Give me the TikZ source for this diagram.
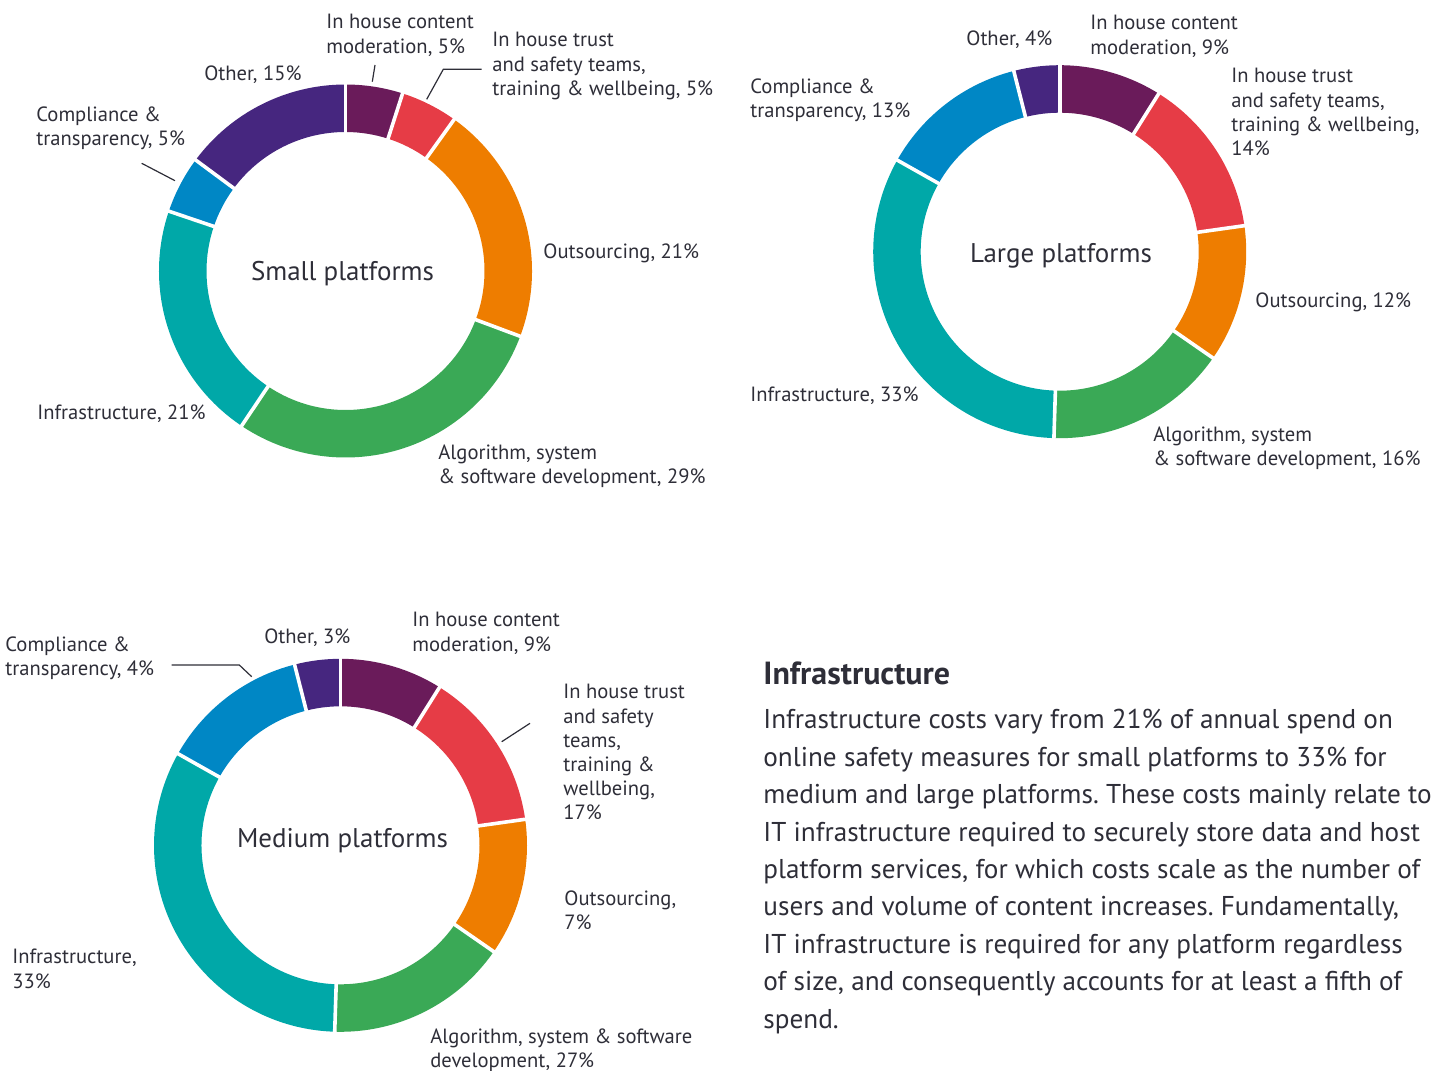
\documentclass[tikz,border=0pt]{standalone}
\usepackage{fontspec}
\setmainfont{PT Sans}
\usetikzlibrary{calc}
\definecolor{inkc}{HTML}{2E2E38}
\definecolor{modc}{HTML}{6A1B5A}
\definecolor{trustc}{HTML}{E63C46}
\definecolor{outc}{HTML}{EE7D00}
\definecolor{algc}{HTML}{3AA956}
\definecolor{infc}{HTML}{00A8A8}
\definecolor{compc}{HTML}{0087C5}
\definecolor{othc}{HTML}{46267F}
\frenchspacing

\begin{document}
\begin{tikzpicture}[x=0.5pt, y=0.5pt,
  lbl/.style={text=inkc, font=\fontsize{10.3}{12.1}\selectfont, align=left, anchor=north west, inner sep=0pt},
  ctitle/.style={text=inkc, font=\fontsize{13.5}{16}\selectfont, inner sep=0pt},
  head/.style={text=inkc, font=\fontsize{16}{18}\selectfont\bfseries, anchor=north west, inner sep=0pt},
  body/.style={text=inkc, font=\fontsize{13.6}{18.7}\selectfont, align=left, anchor=north west, inner sep=0pt},
  leader/.style={draw=inkc, line width=0.6pt},
  gap/.style={draw=white, line width=1.8pt}]

% GLOBAL SETTINGS
\newcommand{\Rout}{186.5}
\newcommand{\Rin}{139}
\newcommand{\Total}{101}
\newcommand{\donut}[2]{%
  \foreach \sA/\sB/\col in {#2} {
    \pgfmathsetmacro{\angA}{90-\sA/\Total*360}
    \pgfmathsetmacro{\angB}{90-\sB/\Total*360}
    \fill[\col] ($(#1)+(\angA:\Rout)$) arc[start angle=\angA, end angle=\angB, radius=\Rout]
      -- ($(#1)+(\angB:\Rin)$) arc[start angle=\angB, end angle=\angA, radius=\Rin] -- cycle;
  }
  \foreach \sA/\sB/\col in {#2} {
    \pgfmathsetmacro{\angA}{90-\sA/\Total*360}
    \draw[gap] ($(#1)+(\angA:136)$) -- ($(#1)+(\angA:190)$);
  }
}

\useasboundingbox (0,0) rectangle (1443,-1070);

% CENTRES
\coordinate (S) at (345.5,-271);
\coordinate (L) at (1059.7,-251.7);
\coordinate (M) at (340.5,-845.3);

% RINGS
\donut{S}{0/5/modc, 5/10/trustc, 10/31/outc, 31/60/algc, 60/81/infc, 81/86/compc, 86/101/othc}
\donut{L}{0/9/modc, 9/23/trustc, 23/35/outc, 35/51/algc, 51/84/infc, 84/97/compc, 97/101/othc}
\donut{M}{0/9/modc, 9/23/trustc, 23/35/outc, 35/51/algc, 51/84/infc, 84/97/compc, 97/101/othc}

\node[ctitle] (Stitle) at (342.5,-274) {Small platforms};
\node[ctitle] (Ltitle) at (1061,-256) {Large platforms};
\node[ctitle] (Mtitle) at (342.5,-841) {Medium platforms};

% SMALL LABELS
\node[lbl] (sCont) at (326,-14) {In house content\\moderation, 5\%};
\node[lbl] (sTrust) at (492,-32) {In house trust\\and safety teams,\\training \& wellbeing, 5\%};
\node[lbl] (sOut) at (543,-243) {Outsourcing, 21\%};
\node[lbl] (sAlg) at (438,-444) {Algorithm, system\\\& software development, 29\%};
\node[lbl] (sInf) at (37,-404) {Infrastructure, 21\%};
\node[lbl] (sComp) at (36,-106) {Compliance \&\\transparency, 5\%};
\node[lbl] (sOth) at (204,-65) {Other, 15\%};

% LARGE LABELS
\node[lbl] (lOth) at (966,-30) {Other, 4\%};
\node[lbl] (lCont) at (1090,-15) {In house content\\moderation, 9\%};
\node[lbl] (lTrust) at (1231,-68) {In house trust\\and safety teams,\\training \& wellbeing,\\14\%};
\node[lbl] (lComp) at (750,-78) {Compliance \&\\transparency, 13\%};
\node[lbl] (lOut) at (1255,-292) {Outsourcing, 12\%};
\node[lbl] (lInf) at (750,-386) {Infrastructure, 33\%};
\node[lbl] (lAlg) at (1153,-426) {Algorithm, system\\\& software development, 16\%};

% MEDIUM LABELS
\node[lbl] (mOth) at (264,-628) {Other, 3\%};
\node[lbl] (mCont) at (412,-612) {In house content\\moderation, 9\%};
\node[lbl] (mComp) at (5,-636) {Compliance \&\\transparency, 4\%};
\node[lbl] (mTrust) at (563,-684) {In house trust\\and safety\\teams,\\training \&\\wellbeing,\\17\%};
\node[lbl] (mOut) at (564,-890) {Outsourcing,\\7\%};
\node[lbl] (mInf) at (12,-949) {Infrastructure,\\33\%};
\node[lbl] (mAlg) at (430,-1028) {Algorithm, system \& software\\development, 27\%};

% LEADERS
\coordinate (sContA) at (375,-65);
\coordinate (sContB) at (372.3,-81.7);
\coordinate (sTrustA) at (481.7,-69.3);
\coordinate (sTrustK) at (443.3,-69.3);
\coordinate (sTrustB) at (426.7,-99.3);
\coordinate (sCompA) at (141.7,-163.3);
\coordinate (sCompB) at (175,-180.7);
\coordinate (mCompA) at (171.7,-665);
\coordinate (mCompK) at (239.3,-665);
\coordinate (mCompB) at (251.7,-676.7);
\coordinate (mTrustA) at (530,-723.3);
\coordinate (mTrustB) at (501.7,-741.7);
\draw[leader] (sContA) -- (sContB);
\draw[leader] (sTrustA) -- (sTrustK) -- (sTrustB);
\draw[leader] (sCompA) -- (sCompB);
\draw[leader] (mCompA) -- (mCompK) -- (mCompB);
\draw[leader] (mTrustA) -- (mTrustB);

% TEXT
\node[head] (Head) at (763,-661) {Infrastructure};
\node[body] (Body) at (763,-709) {Infrastructure costs vary from 21\% of annual spend on\\
online safety measures for small platforms to 33\% for\\
medium and large platforms. These costs mainly relate to\\
IT infrastructure required to securely store data and host\\
platform services, for which costs scale as the number of\\
users and volume of content increases. Fundamentally,\\
IT infrastructure is required for any platform regardless\\
of size, and consequently accounts for at least a fifth of\\
spend.};

\end{tikzpicture}
\end{document}
